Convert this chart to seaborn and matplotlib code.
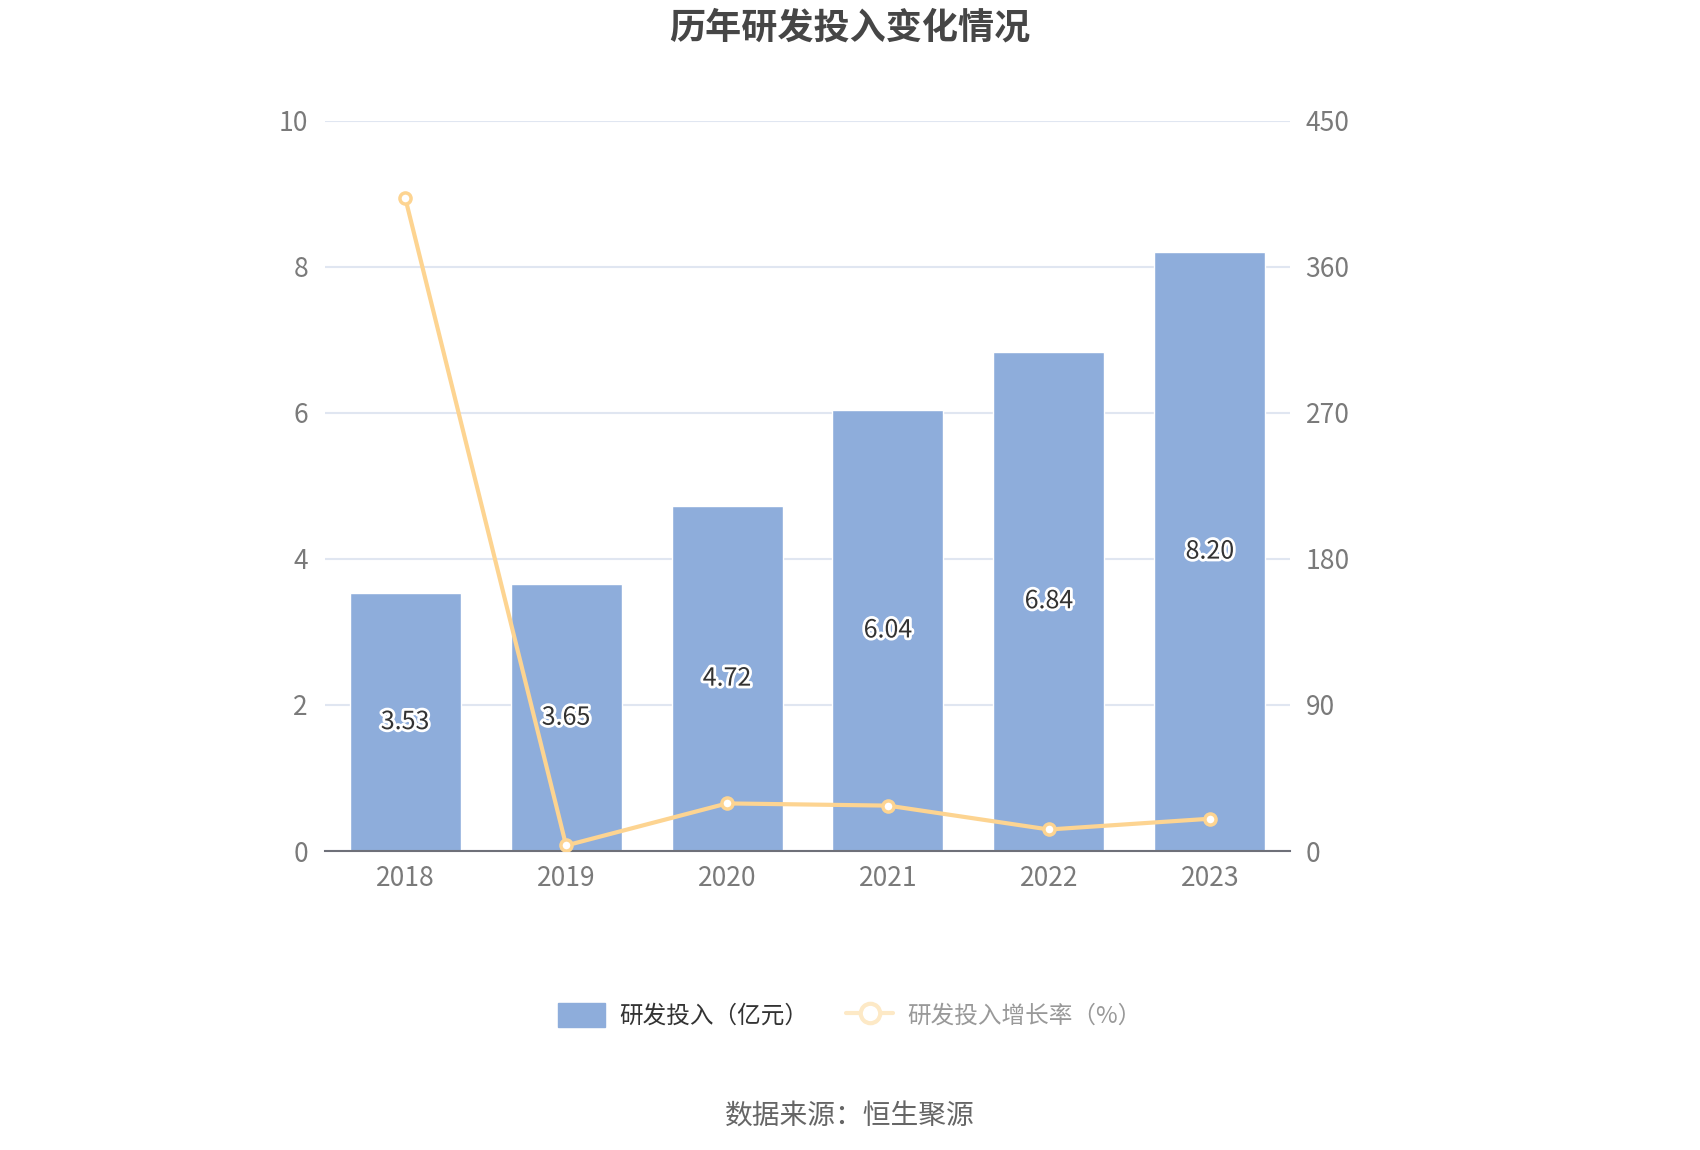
import numpy as np
import pandas as pd
import matplotlib.pyplot as plt
import matplotlib.patheffects as pe
from matplotlib.lines import Line2D
from matplotlib.patches import Patch
import seaborn as sns

years = ['2018', '2019', '2020', '2021', '2022', '2023']
rd_input = [3.53, 3.65, 4.72, 6.04, 6.84, 8.20]
rd_growth = [402.6, 3.40, 29.32, 27.97, 13.25, 19.88]

bar_color = '#8eaddb'
line_color = '#fdd491'

sns.set_theme(style="white")
plt.rcParams['font.family'] = ['Noto Sans CJK SC', 'DejaVu Sans']

df = pd.DataFrame({'year': years, 'input': rd_input, 'growth': rd_growth})

fig = plt.figure(figsize=(17, 11.5), dpi=100)
ax = fig.add_axes([0.191, 0.260, 0.568, 0.635])

sns.barplot(data=df, x='year', y='input', color=bar_color, width=0.69,
            saturation=1, ax=ax, zorder=2)

ax.set_ylim(0, 10)
ax.set_yticks([0, 2, 4, 6, 8, 10])
ax.set_xlim(-0.5, 5.5)
ax.grid(axis='y', color='#e0e6f1', linewidth=1.5, zorder=0)
ax.set_axisbelow(True)
for s in ['top', 'right', 'left']:
    ax.spines[s].set_visible(False)
ax.spines['bottom'].set_color('#6e7079')
ax.spines['bottom'].set_linewidth(1.5)
ax.set_xlabel('')
ax.set_ylabel('')
ax.tick_params(axis='x', length=0, pad=10, labelsize=19, labelcolor='#7a7a7a')
ax.tick_params(axis='y', length=0, pad=12, labelsize=19, labelcolor='#7a7a7a')

# value labels in the middle of each bar
for i, v in enumerate(rd_input):
    ax.text(i, v / 2, f'{v:.2f}', ha='center', va='center', fontsize=18,
            color='#333333', zorder=5,
            path_effects=[pe.withStroke(linewidth=4, foreground='white')])

ax2 = ax.twinx()
sns.lineplot(x=np.arange(len(years)), y=rd_growth, ax=ax2, color=line_color,
             linewidth=3, marker='o', markersize=8, markerfacecolor='white',
             markeredgecolor=line_color, markeredgewidth=2.5, zorder=4)
ax2.set_ylim(0, 450)
ax2.set_yticks([0, 90, 180, 270, 360, 450])
for s in ['top', 'right', 'left', 'bottom']:
    ax2.spines[s].set_visible(False)
ax2.tick_params(axis='y', length=0, pad=11, labelsize=19, labelcolor='#7a7a7a')
ax2.grid(False)
ax2.set_xlim(-0.5, 5.5)

fig.text(0.5, 0.976, '历年研发投入变化情况', ha='center', va='center',
         fontsize=26, fontweight='bold', color='#464646')

handles = [
    Patch(facecolor=bar_color, edgecolor=bar_color, label='研发投入（亿元）'),
    Line2D([0], [0], color='#fde9c6', linewidth=3, marker='o', markersize=14,
           markerfacecolor='white', markeredgecolor='#fde9c6',
           markeredgewidth=3, label='研发投入增长率（%）'),
]
leg = fig.legend(handles=handles, loc='center', bbox_to_anchor=(0.5, 0.117),
                 ncol=2, frameon=False, fontsize=17, handlelength=2.0,
                 handleheight=1.2, columnspacing=1.6, handletextpad=0.6)
leg.get_texts()[0].set_color('#333333')
leg.get_texts()[1].set_color('#999999')

fig.text(0.5, 0.029, '数据来源：恒生聚源', ha='center', va='center',
         fontsize=20, color='#666666')

fig.savefig('out.png', dpi=100, facecolor='white')
